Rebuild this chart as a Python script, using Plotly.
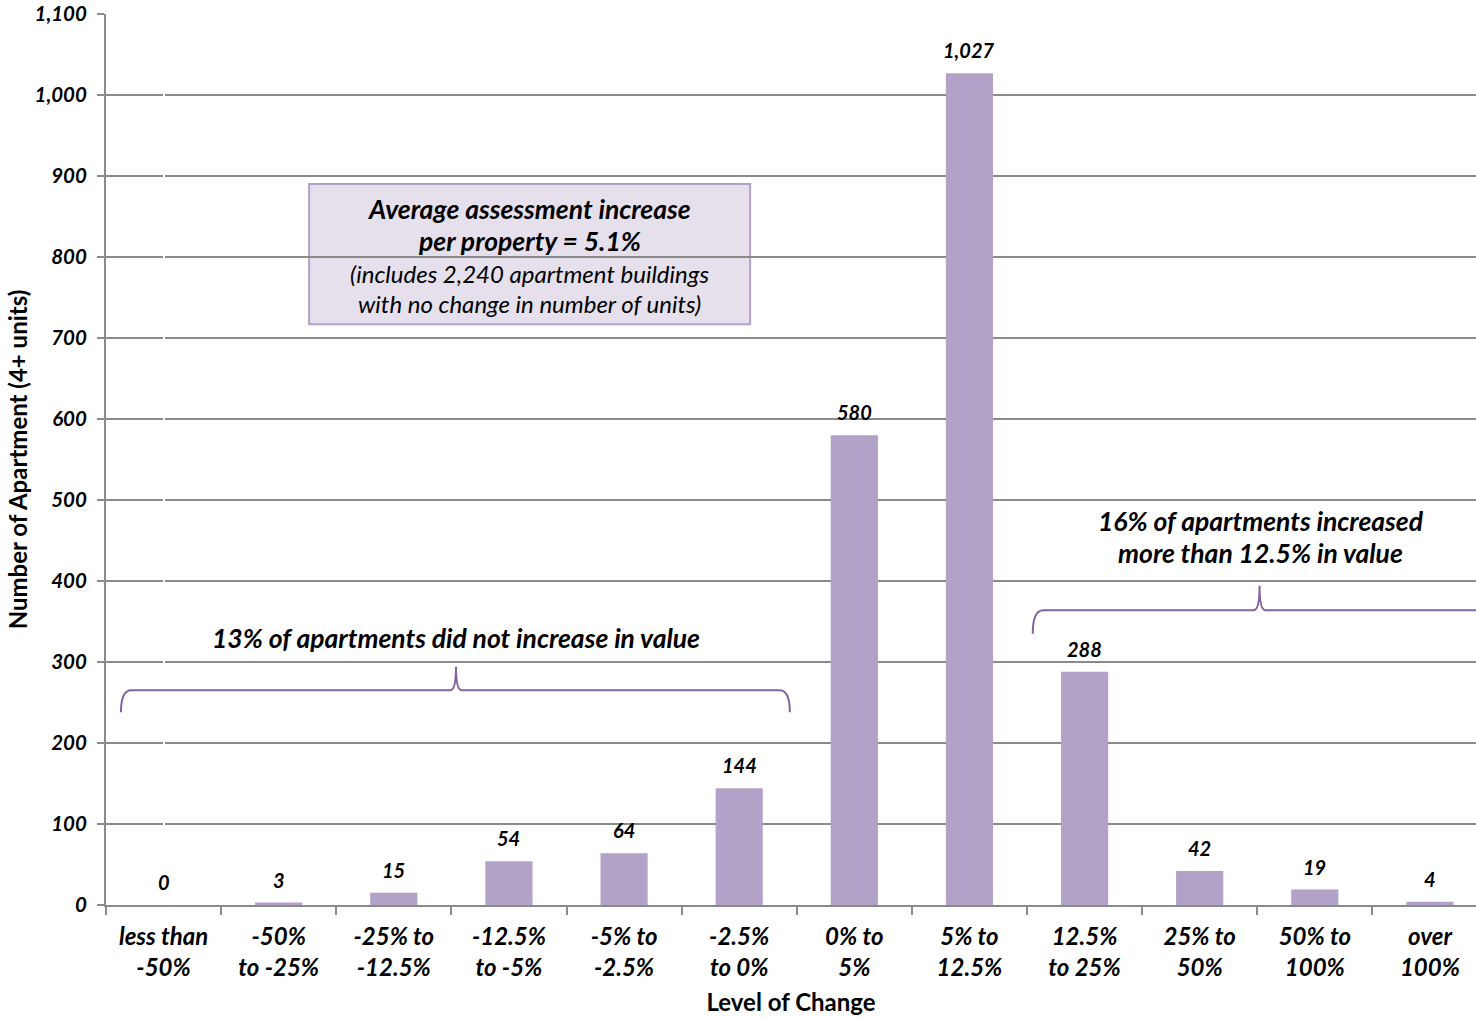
import plotly.graph_objects as go

# Distribution of apartment assessment changes
line1 = ["less than", "-50%", "-25% to", "-12.5%", "-5% to", "-2.5%",
         "0% to", "5% to", "12.5%", "25% to", "50% to", "over"]
line2 = ["-50%", "to -25%", "-12.5%", "to -5%", "-2.5%", "to 0%",
         "5%", "12.5%", "to 25%", "50%", "100%", "100%"]
counts = [0, 3, 15, 54, 64, 144, 580, 1027, 288, 42, 19, 4]
y_ticks = list(range(0, 1101, 100))

FONT = "Lato"
GRAY = "#8a8a8a"
BAR = "#b3a2c7"
BRACE = "#8064a2"
CLEAR = "rgba(0,0,0,0)"
x_idx = list(range(len(counts)))
x_bounds = [i - 0.5 for i in range(len(counts) + 1)]
x_range = [-0.5, 11.4]

fig = go.Figure()
fig.add_trace(go.Bar(
    x=x_idx, y=counts, width=0.41, marker=dict(color=BAR, line=dict(width=0)),
    showlegend=False, hoverinfo="x+y",
))
# helper traces so the two label axes are drawn
for ax in ("x2", "x3"):
    fig.add_trace(go.Scatter(x=[0], y=[None], xaxis=ax, showlegend=False,
                             hoverinfo="skip"))

# value labels above bars
for i, v in zip(x_idx, counts):
    fig.add_annotation(x=i, y=v, text=f"{v:,}", showarrow=False,
                       yanchor="middle", yshift=23,
                       font=dict(family=FONT, size=20, color="black",
                                 weight="bold", style="italic"))

# summary box
fig.add_shape(type="rect", x0=1.264, x1=5.095, y0=717, y1=890,
              fillcolor="#e6e0ec", line=dict(color=BAR, width=2), layer="below")
box_lines = [("Average assessment increase", 859, "bold", 26.5),
             ("per property = 5.1%", 820, "bold", 26.5),
             ("(includes 2,240 apartment buildings", 780, "normal", 24),
             ("with no change in number of units)", 743, "normal", 24)]
for txt, yy, w, sz in box_lines:
    fig.add_annotation(x=3.175, y=yy, text=txt, showarrow=False,
                       font=dict(family=FONT, size=sz, color="black",
                                 weight=w, style="italic"))


def brace(x0, xc, x1, yh, yend, ypeak):
    r, c = 0.09, 0.05
    return (f"M {x0},{yend} Q {x0},{yh} {x0 + r},{yh} "
            f"L {xc - c},{yh} Q {xc},{yh} {xc},{ypeak} "
            f"Q {xc},{yh} {xc + c},{yh} "
            f"L {x1 - r},{yh} Q {x1},{yh} {x1},{yend}")


fig.add_shape(type="path", path=brace(-0.37, 2.54, 5.44, 265, 238, 294),
              line=dict(color=BRACE, width=2))
fig.add_shape(type="path", path=brace(7.55, 9.52, 11.7, 364, 335, 394),
              line=dict(color=BRACE, width=2))

note_font = dict(family=FONT, size=26.5, color="black", weight="bold",
                 style="italic")
fig.add_annotation(x=2.54, y=330, text="13% of apartments did not increase in value",
                   showarrow=False, font=note_font)
fig.add_annotation(x=9.53, y=474, text="16% of apartments increased",
                   showarrow=False, font=note_font)
fig.add_annotation(x=9.53, y=435, text="more than 12.5% in value",
                   showarrow=False, font=note_font)

xtick_font = dict(family=FONT, size=24, color="black", weight="bold",
                  style="italic")
ytick_font = dict(family=FONT, size=20.5, color="black", weight="bold",
                  style="italic")
label_axis = dict(range=x_range, overlaying="x", anchor="y", side="bottom",
                  tickmode="array", tickvals=x_idx, ticks="outside",
                  tickcolor=CLEAR, showline=False, showgrid=False,
                  tickfont=xtick_font)
fig.update_layout(
    width=1476, height=1018,
    margin=dict(l=106, r=0, t=14, b=113),
    plot_bgcolor="white", paper_bgcolor="white",
    xaxis=dict(
        range=x_range, tickmode="array", tickvals=x_bounds,
        ticks="outside", ticklen=8, tickwidth=2,
        tickcolor=GRAY, showline=True, linecolor=GRAY, linewidth=2,
        showgrid=False, showticklabels=False,
    ),
    xaxis2=dict(label_axis, ticktext=line1, ticklen=10),
    xaxis3=dict(label_axis, ticktext=line2, ticklen=41,
                title=dict(text="Level of Change", standoff=14,
                           font=dict(family=FONT, size=24, color="black",
                                     weight="bold"))),
    yaxis=dict(
        range=[0, 1100], tickmode="array", tickvals=y_ticks,
        ticktext=[f"{t:,}" for t in y_ticks],
        ticks="outside", ticklen=7, tickwidth=2, tickcolor=GRAY,
        showline=True, linecolor=GRAY, linewidth=2,
        showgrid=True, gridcolor=GRAY, gridwidth=1.5, zeroline=False,
        tickfont=ytick_font, ticklabelstandoff=6,
        title=dict(text="Number of Apartment (4+ units)", standoff=0,
                   font=dict(family=FONT, size=24, color="black",
                             weight="bold")),
    ),
)

fig.write_html("out.html")
